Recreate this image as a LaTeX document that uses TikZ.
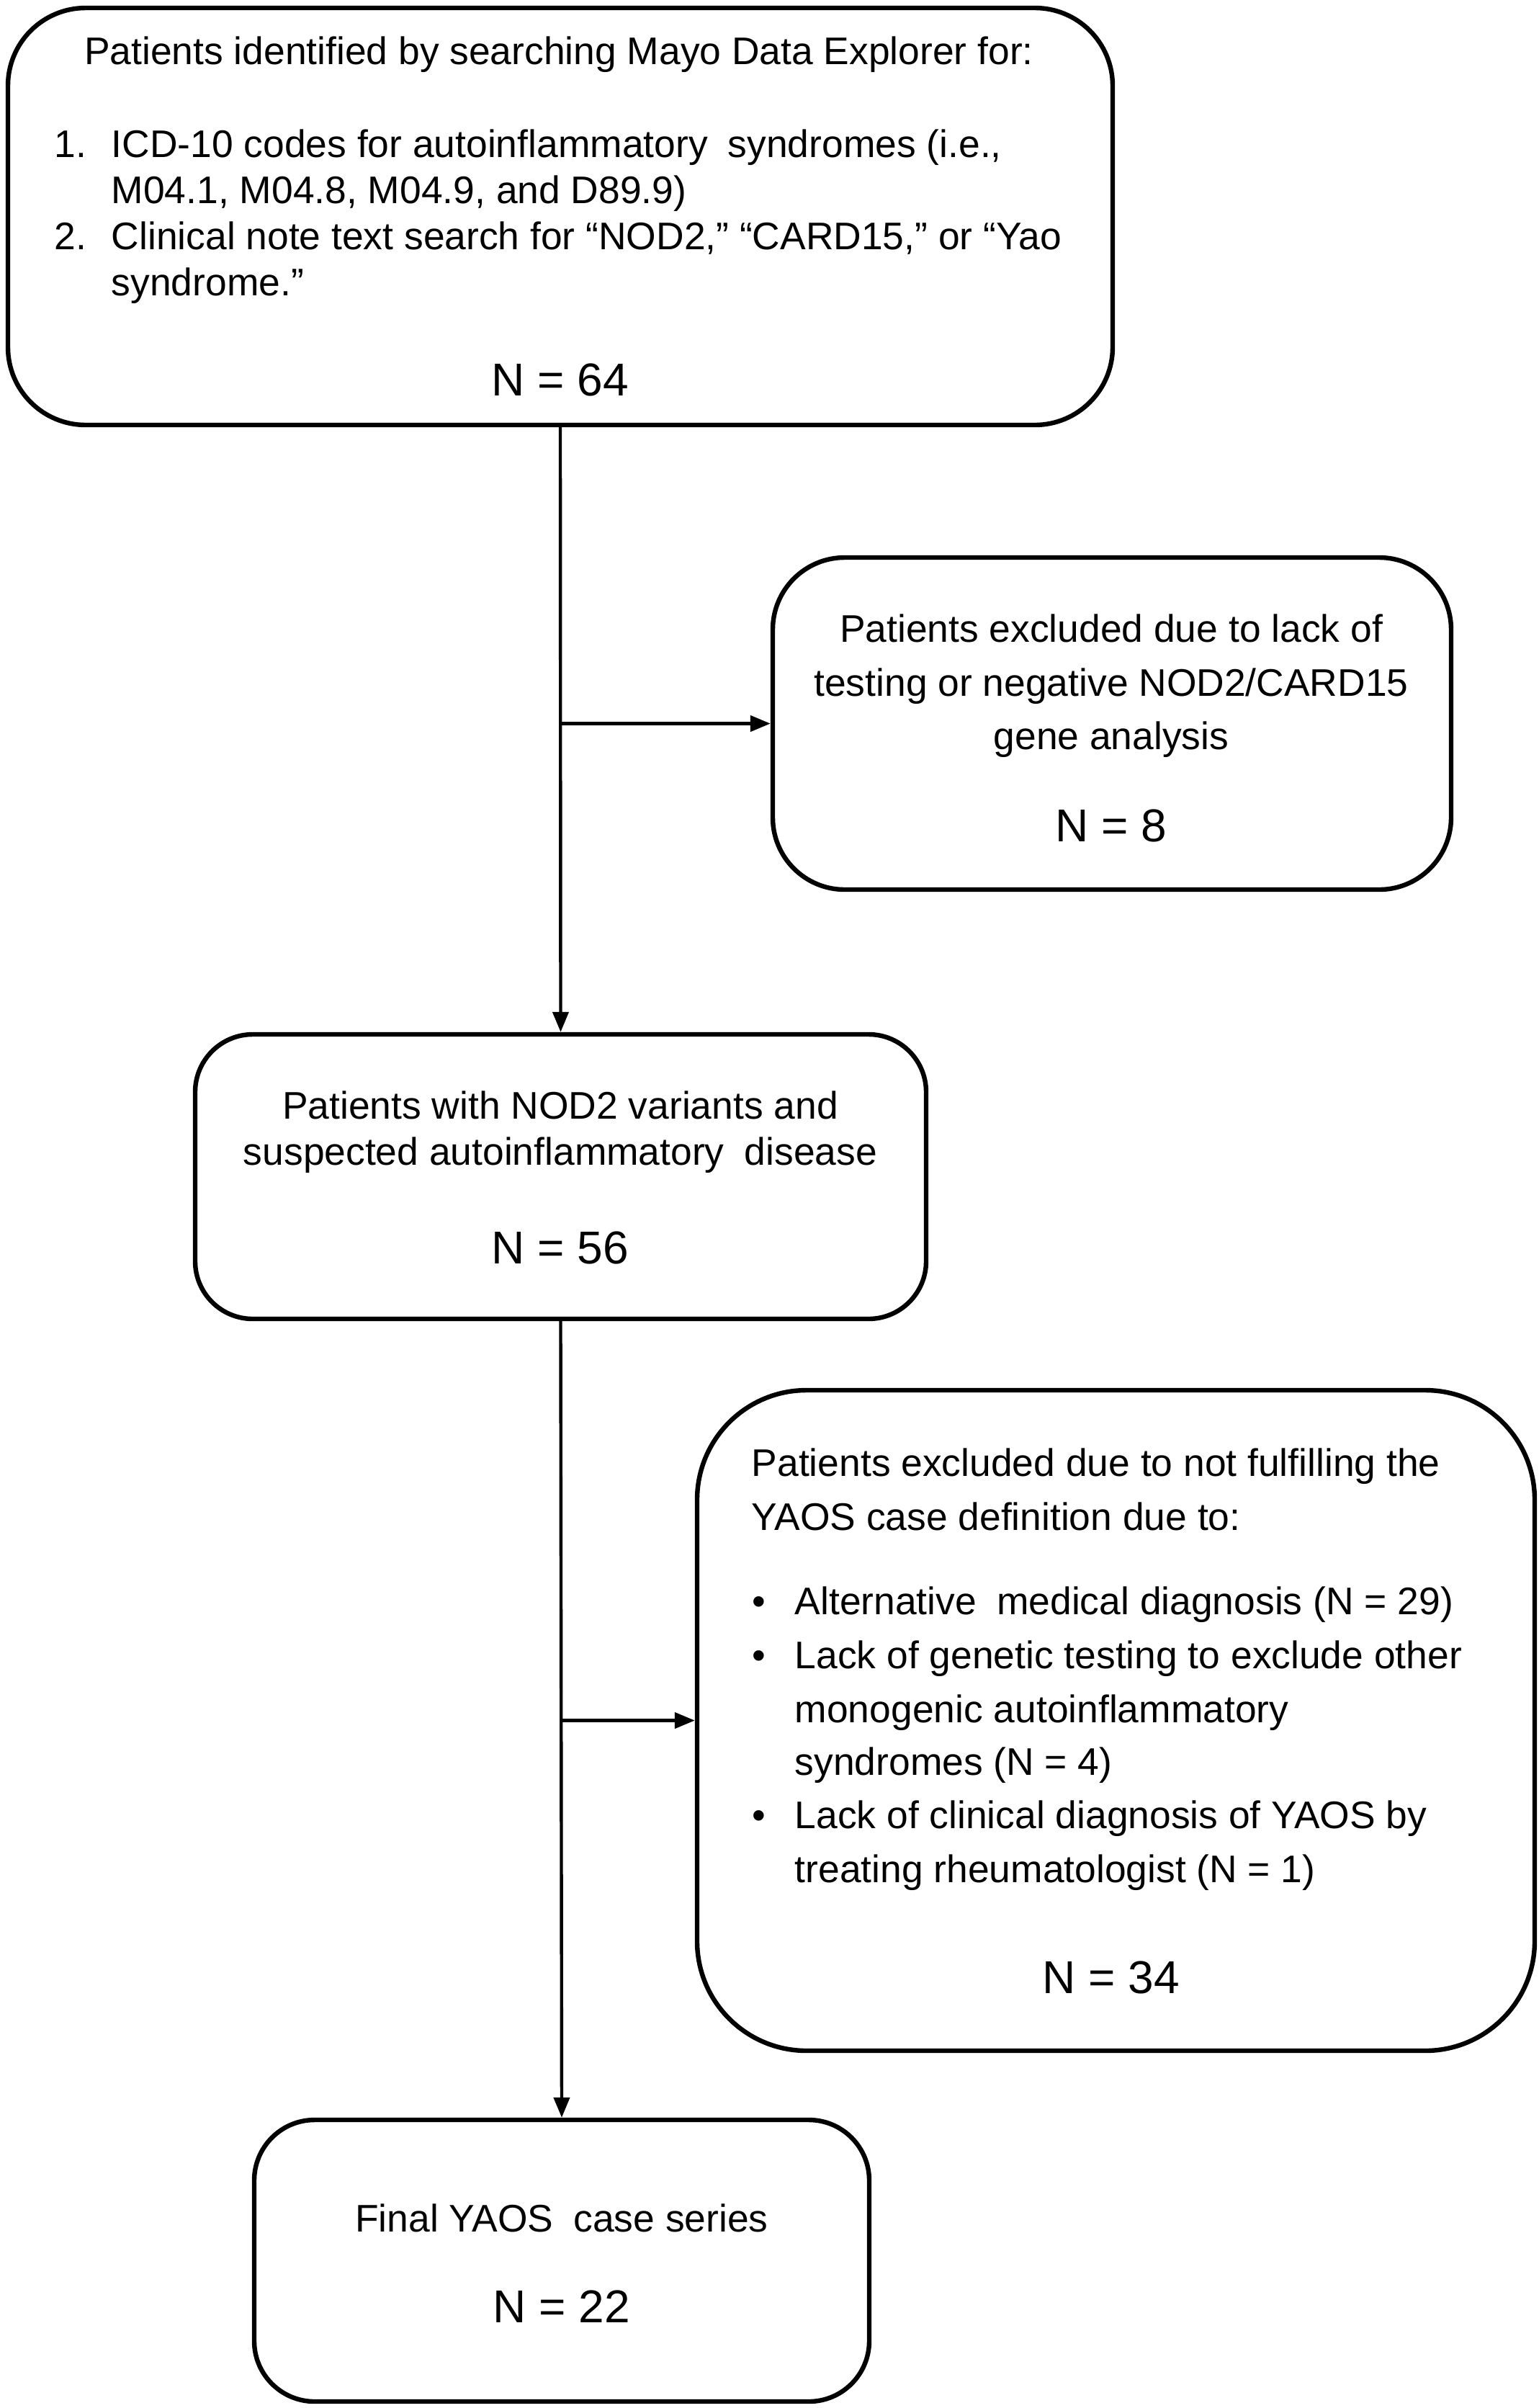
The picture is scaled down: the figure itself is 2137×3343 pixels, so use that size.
\documentclass[tikz,border=0pt]{standalone}
\usepackage{fontspec}
\setmainfont{Liberation Sans}
\usetikzlibrary{arrows.meta}
\begin{document}
\begin{tikzpicture}[x=0.25pt,y=-0.25pt,
  box/.style={draw,line width=1.6pt,inner sep=0pt},
  body/.style={font=\fontsize{13.35}{16}\selectfont,inner sep=0pt,anchor=base},
  nnum/.style={font=\fontsize{16}{19}\selectfont,inner sep=0pt,anchor=base},
  conn/.style={line width=1.1pt,-{Triangle[length=7pt,width=5.5pt]}}]
\useasboundingbox (0,0) rectangle (2137,3343);
\fill[white] (0,0) rectangle (2137,3343);

% boxes
\node[box,rounded corners=27pt,minimum width=383.5pt,minimum height=144.75pt] (b1) at (778,300.5) {};
\node[box,rounded corners=25pt,minimum width=235.5pt,minimum height=115.25pt] (b2) at (1544,1004.5) {};
\node[box,rounded corners=20pt,minimum width=253.75pt,minimum height=98.75pt] (b3) at (778.5,1633.5) {};
\node[box,rounded corners=38pt,minimum width=290.75pt,minimum height=229.25pt] (b4) at (1549.5,2388.5) {};
\node[box,rounded corners=21pt,minimum width=213.5pt,minimum height=97.75pt] (b5) at (780,3138.5) {};

% box 1 text
\node[body] (t1a) at (776,89) {Patients identified by searching Mayo Data Explorer for:};
\node[body,anchor=base west] (t1n1) at (75,218) {1.};
\node[body,anchor=base west] (t1b) at (154,218) {ICD-10 codes for autoinflammatory\hspace{0.25em} syndromes (i.e.,};
\node[body,anchor=base west] (t1c) at (154,282) {M04.1, M04.8, M04.9, and D89.9)};
\node[body,anchor=base west] (t1n2) at (75,346) {2.};
\node[body,anchor=base west] (t1d) at (154,346) {Clinical note text search for “NOD2,” “CARD15,” or “Yao};
\node[body,anchor=base west] (t1e) at (154,410) {syndrome.”};
\node[nnum] (n1) at (778,549) {N = 64};

% box 2 text
\node[body] (t2a) at (1543,891) {Patients excluded due to lack of};
\node[body] (t2b) at (1543,966) {testing or negative NOD2/CARD15};
\node[body] (t2c) at (1543,1040) {gene analysis};
\node[nnum] (n2) at (1543,1168) {N = 8};

% box 3 text
\node[body] (t3a) at (778,1553) {Patients with NOD2 variants and};
\node[body] (t3b) at (778,1617) {suspected autoinflammatory\hspace{0.25em} disease};
\node[nnum] (n3) at (778,1754) {N = 56};

% box 4 text
\node[body,anchor=base west] (t4a) at (1043,2049) {Patients excluded due to not fulfilling the};
\node[body,anchor=base west] (t4b) at (1043,2124) {YAOS case definition due to:};
\node[body] (d1) at (1054,2241) {•};
\node[body,anchor=base west] (t4c) at (1103,2241) {Alternative\hspace{0.25em} medical diagnosis (N = 29)};
\node[body] (d2) at (1054,2316) {•};
\node[body,anchor=base west] (t4d) at (1103,2316) {Lack of genetic testing to exclude other};
\node[body,anchor=base west] (t4e) at (1103,2391) {monogenic autoinflammatory};
\node[body,anchor=base west] (t4f) at (1103,2464) {syndromes (N = 4)};
\node[body] (d3) at (1054,2538) {•};
\node[body,anchor=base west] (t4g) at (1103,2538) {Lack of clinical diagnosis of YAOS by};
\node[body,anchor=base west] (t4h) at (1103,2613) {treating rheumatologist (N = 1)};
\node[nnum] (n4) at (1543,2767) {N = 34};

% box 5 text
\node[body] (t5a) at (780,3098) {Final YAOS\hspace{0.25em} case series};
\node[nnum] (n5) at (780,3224) {N = 22};

% connectors
\coordinate (j1) at (b1.south |- b2.west);
\coordinate (j2) at (b3.south |- b4.west);
\draw[conn] (b1.south) -- (b3.north);
\draw[conn] (j1) -- (b2.west);
\draw[conn] (b3.south) -- (b5.north);
\draw[conn] (j2) -- (b4.west);
\end{tikzpicture}
\end{document}
